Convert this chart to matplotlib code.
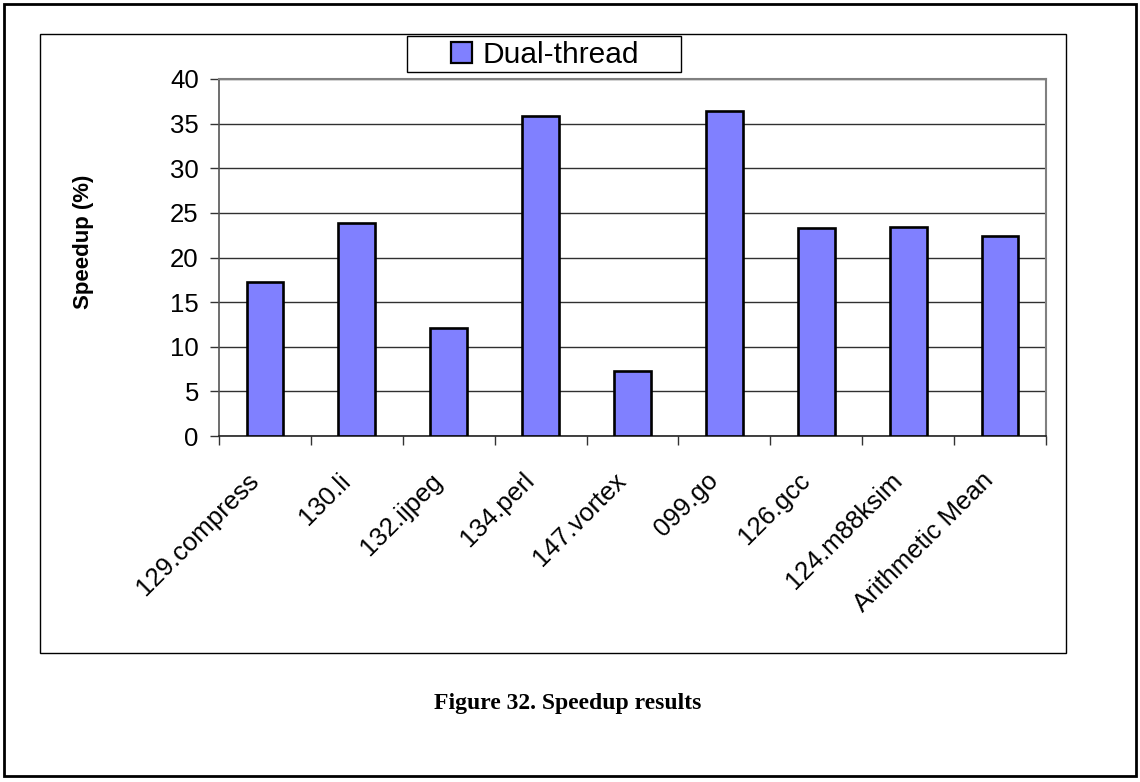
import matplotlib
matplotlib.use("Agg")
import matplotlib.pyplot as plt
from matplotlib.patches import Rectangle, Patch
import numpy as np

benchmarks = ["129.compress", "130.li", "132.ijpeg", "134.perl", "147.vortex",
              "099.go", "126.gcc", "124.m88ksim", "Arithmetic Mean"]
speedup = [17.3, 23.9, 12.1, 35.8, 7.3, 36.4, 23.3, 23.4, 22.4]
series_name = "Dual-thread"
y_ticks = [0, 5, 10, 15, 20, 25, 30, 35, 40]
caption = "Figure 32. Speedup results"

W, H = 1140, 782
fig = plt.figure(figsize=(W / 100, H / 100), dpi=100)
fig.patch.set_facecolor("white")

def fx(px):
    return px / W

def fy(py):
    return 1 - py / H

def frame(x0, y0, x1, y1, **kw):
    fig.add_artist(Rectangle((fx(x0), fy(y1)), fx(x1) - fx(x0), fy(y0) - fy(y1),
                             transform=fig.transFigure, fill=False, **kw))

# page frame and chart-area frame
frame(4, 4, 1136, 776, edgecolor="black", linewidth=2.0)
frame(40, 34, 1066, 653, edgecolor="black", linewidth=1.0)

ax = fig.add_axes([fx(219), fy(436), fx(1046) - fx(219), fy(79) - fy(436)])
x = np.arange(len(benchmarks))
ax.bar(x, speedup, width=0.4, color="#8080FF", edgecolor="black", linewidth=1.9, zorder=3)

ax.set_xlim(-0.5, len(benchmarks) - 0.5)
ax.set_ylim(0, 40)
ax.set_yticks(y_ticks)
ax.set_yticklabels([str(v) for v in y_ticks], fontsize=18.5, family="Liberation Sans")
ax.yaxis.grid(True, color="#303030", linewidth=1.0, zorder=0)
ax.set_axisbelow(True)

# category boundary ticks below the axis
ax.set_xticks(np.arange(-0.5, len(benchmarks), 1.0))
ax.set_xticklabels([])
ax.tick_params(axis="x", direction="out", length=6.5, width=1.0, color="#333333")
ax.tick_params(axis="y", direction="out", length=6.5, width=1.0, color="#333333", pad=8)

px2pt = 72 / 100
for i, name in enumerate(benchmarks):
    ax.annotate(name, xy=(i, 0), xycoords="data",
                xytext=(-10 * px2pt, -41 * px2pt), textcoords="offset points",
                rotation=45, rotation_mode="anchor", ha="right", va="center",
                fontsize=18.5, family="Liberation Sans")

for side in ("top", "right"):
    ax.spines[side].set_color("#808080")
    ax.spines[side].set_linewidth(1.5)
ax.spines["left"].set_color("#555555")
ax.spines["left"].set_linewidth(1.2)
ax.spines["bottom"].set_color("#222222")
ax.spines["bottom"].set_linewidth(1.2)

fig.text(fx(84), fy(242), "Speedup (%)", rotation=90, ha="center", va="center",
         fontsize=16, fontweight="bold", family="Liberation Sans")

# legend box with its entry centred inside
frame(406.5, 35.5, 680.5, 72, edgecolor="black", linewidth=1.0)
leg = fig.legend(handles=[Patch(facecolor="#8080FF", edgecolor="black", linewidth=1.6,
                                label=series_name)],
                 loc="center", bbox_to_anchor=(fx(545), fy(55)),
                 frameon=False, handlelength=0.68, handleheight=0.68,
                 handletextpad=0.35, borderpad=0.0,
                 prop={"family": "Liberation Sans", "size": 21.5})

fig.text(fx(568), fy(703), caption, ha="center", va="center",
         fontsize=17, fontweight="bold", family="Liberation Serif")

fig.savefig("out.png", dpi=100)
